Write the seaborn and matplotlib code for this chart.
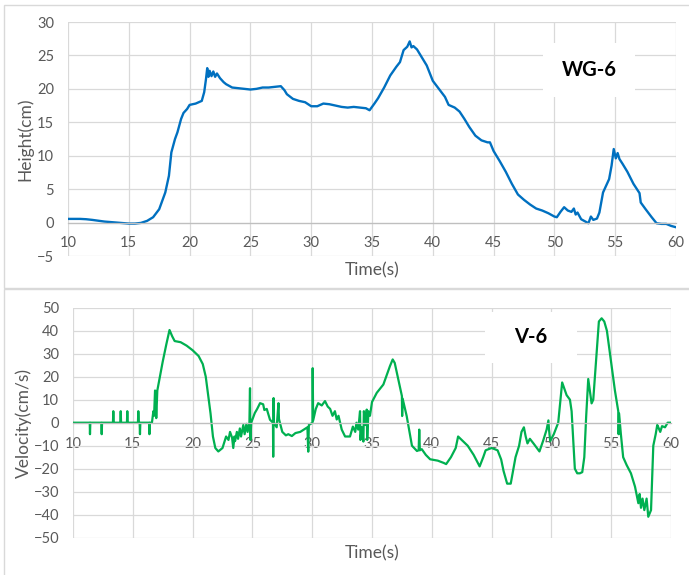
import matplotlib
matplotlib.use("Agg")
import matplotlib.pyplot as plt
from matplotlib.patches import Rectangle
import pandas as pd
import seaborn as sns

# ---- data ----
height_time = [
    10, 11, 11.5, 12, 13, 14, 15, 15.5, 16, 16.5,
    17, 17.5, 18, 18.3, 18.5, 18.8, 19, 19.3, 19.5, 19.8,
    20, 20.5, 21, 21.2, 21.35, 21.45, 21.55, 21.65, 21.8, 21.95,
    22.1, 22.25, 22.5, 22.8, 23, 23.5, 24, 24.5, 25, 25.5,
    26, 26.5, 27, 27.5, 27.8, 28, 28.5, 29, 29.5, 30,
    30.5, 31, 31.5, 32, 32.5, 33, 33.5, 34, 34.5, 34.8,
    35.2, 35.5, 36, 36.5, 37, 37.3, 37.6, 37.9, 38.1, 38.25,
    38.4, 38.7, 39, 39.5, 40, 40.5, 41, 41.3, 41.8, 42.2,
    42.6, 43, 43.5, 44, 44.5, 44.7, 45, 45.5, 46, 46.5,
    47, 47.5, 48, 48.5, 49, 49.5, 50, 50.2, 50.5, 50.8,
    51.1, 51.4, 51.6, 51.75, 51.9, 52.2, 52.5, 52.8, 53.0, 53.2,
    53.5, 53.7, 54, 54.5, 54.7, 54.88, 55.05, 55.2, 55.35, 55.6,
    56, 56.5, 57, 57.1, 57.5, 58, 58.4, 58.8, 59.2, 59.6,
    60]
height_cm = [
    0.55, 0.55, 0.5, 0.4, 0.15, 0.0, -0.15, -0.15, -0.05, 0.25,
    0.8, 2.0, 4.5, 7.0, 10.5, 12.5, 13.5, 15.5, 16.4, 17.0,
    17.6, 17.8, 18.2, 19.5, 21.5, 23.1, 21.8, 22.7, 21.9, 22.6,
    21.8, 22.3, 21.6, 21.0, 20.7, 20.2, 20.1, 20.0, 19.9, 20.0,
    20.2, 20.2, 20.3, 20.4, 19.8, 19.2, 18.5, 18.2, 18.0, 17.4,
    17.4, 17.8, 17.7, 17.5, 17.3, 17.2, 17.3, 17.2, 17.1, 16.8,
    17.8, 18.6, 20.2, 22.0, 23.3, 24.0, 25.8, 26.3, 27.1, 26.2,
    26.4, 25.9, 25.0, 23.5, 21.2, 20.0, 18.8, 17.6, 17.2, 16.6,
    15.5, 14.3, 13.0, 12.3, 12.0, 12.0, 10.7, 9.2, 7.6, 5.8,
    4.2, 3.4, 2.7, 2.1, 1.8, 1.4, 0.9, 0.8, 1.6, 2.3,
    1.8, 1.6, 2.1, 1.2, 1.5, 0.5, 0.2, -0.1, 0.9, 0.4,
    0.6, 1.5, 4.5, 6.5, 8.5, 11.0, 9.6, 10.4, 9.5, 8.8,
    7.6, 5.8, 4.4, 3.0, 2.0, 0.8, -0.1, -0.2, -0.2, -0.5,
    -0.7]

velocity_time = [
    10, 11.40, 11.42, 11.45, 12.37, 12.40, 12.43, 13.34, 13.37, 13.40,
    13.96, 13.99, 14.02, 14.51, 14.54, 14.57, 15.43, 15.46, 15.50, 15.57,
    15.60, 15.63, 16.36, 16.39, 16.42, 16.60, 16.72, 16.78, 16.86, 16.90,
    16.96, 17.05, 17.5, 17.8, 18.07, 18.3, 18.5, 19.0, 19.5, 20.0,
    20.5, 20.85, 21.1, 21.3, 21.5, 21.7, 21.9, 22.15, 22.5, 22.8,
    23.0, 23.13, 23.3, 23.4, 23.5, 23.55, 23.7, 23.8, 23.95, 24.05,
    24.24, 24.35, 24.5, 24.6, 24.75, 24.8, 24.83, 24.9, 25.2, 25.4,
    25.64, 25.9, 26.0, 26.2, 26.47, 26.72, 26.74, 26.77, 26.8, 27.03,
    27.18, 27.22, 27.5, 27.8, 28.0, 28.3, 28.6, 29.0, 29.3, 29.6,
    29.67, 29.72, 30.02, 30.04, 30.08, 30.3, 30.5, 30.8, 31.07, 31.3,
    31.5, 31.7, 31.9, 32.05, 32.2, 32.47, 32.75, 33.16, 33.4, 33.6,
    33.7, 33.85, 34.0, 34.03, 34.15, 34.28, 34.32, 34.45, 34.56, 34.6,
    34.7, 34.83, 35.0, 35.4, 35.95, 36.5, 36.73, 36.9, 37.2, 37.5,
    37.52, 37.56, 37.9, 38.34, 38.76, 38.9, 38.95, 39.0, 39.16, 39.5,
    39.86, 40.5, 41.0, 41.2, 41.6, 42.0, 42.2, 42.5, 43.0, 43.5,
    44.0, 44.3, 44.5, 45.0, 45.5, 45.8, 46.0, 46.3, 46.6, 47.0,
    47.3, 47.5, 47.7, 47.85, 48.0, 48.2, 48.5, 49.0, 49.3, 49.6,
    49.75, 49.8, 49.9, 50.2, 50.57, 50.9, 51.13, 51.27, 51.55, 51.69,
    51.96, 52.16, 52.38, 52.58, 52.75, 52.91, 53.08, 53.36, 53.5, 53.78,
    53.97, 54.2, 54.42, 54.64, 55.03, 55.31, 55.59, 55.62, 55.66, 55.81,
    56.0, 56.29, 56.65, 56.99, 57.15, 57.27, 57.38, 57.49, 57.62, 57.77,
    57.96, 58.1, 58.33, 58.52, 58.72, 58.85, 58.94, 59.1, 59.25, 59.5,
    59.72, 60.0]
velocity_cms = [
    0, 0, -5, 0, 0, -5, 0, 0, 5, 0,
    0, 5, 0, 0, 5, 0, 0, 5, 0, 0,
    -5, 0, 0, -5, 0, 0, 5, 3, 14, 13,
    2, 14, 26.5, 34, 40.3, 37.5, 35.5, 35, 33.5, 31.5,
    29, 25.5, 20, 12, 4, -6, -11, -12.5, -11, -6,
    -7.5, -4, -6.5, -11, -6, -8, -4, -7, -2.5, -6,
    -1, -5, -0.5, -4, 0, 15, -7.5, 0, 4.2, 6,
    8.5, 8, 5.5, 6, 1.3, 0, -14.8, 10.7, 0, -2,
    8.5, 1.6, -4, -5.5, -5, -5.8, -4.5, -4, -3, -2,
    -12.6, -1, 0, 23.7, 1, 6, 8.5, 7.5, 9.4, 7,
    6, 3, 5, 1.4, 3, -3, -6, -6, -1.7, -4,
    0, -3, 5, -7.5, -2, -8.2, 5, -1, 5.7, -7.5,
    5, 3, 9, 13, 16.6, 24.6, 27.5, 26, 18.9, 11.6,
    2.9, 10.5, 2.9, -10, -12.3, -12, -3, -12, -11.5, -14,
    -15.9, -16.5, -17.5, -18, -15, -11, -6, -7.5, -10, -14,
    -19, -15, -12, -11, -12, -16, -21, -26.5, -26.5, -15,
    -10, -4, -2, -6, -9, -7, -9, -12.5, -8, -3,
    1, -3, -8, -5, 0, 17.5, 14, 12, 10, 5,
    -20, -22, -22, -21.5, -15, 3, 19, 8.4, 10, 30,
    44, 45.4, 44, 40, 25, 14, 5, -5, 4, -5,
    -15, -18.4, -22, -27.8, -32, -35, -31, -37, -33, -38,
    -33, -40.9, -38, -10, -5, -1, -2, -4, -1.5, -2,
    0, 0]

x_ticks = list(range(10, 61, 5))
height_ticks = list(range(-5, 31, 5))
velocity_ticks = list(range(-50, 51, 10))

TEXT = "#595959"
GRID = "#d9d9d9"

sns.set_theme(style="white")
plt.rcParams["font.family"] = ["Lato", "DejaVu Sans"]

fig = plt.figure(figsize=(6.89, 5.75), dpi=100)

# panel frames
for y0, h in [(1 - 288 / 575, 283 / 575), (-0.01, 1 - 289 / 575 + 0.01)]:
    fig.add_artist(Rectangle((4 / 689, y0), 1.2, h, transform=fig.transFigure,
                             fill=False, ec=GRID, lw=1))

ax_h = fig.add_axes([68 / 689, 1 - 256 / 575, 608 / 689, 234 / 575])
ax_v = fig.add_axes([73 / 689, 1 - 537.7 / 575, 598 / 689, 230 / 575])

df_h = pd.DataFrame({"Time": height_time, "Height": height_cm})
df_v = pd.DataFrame({"Time": velocity_time, "Velocity": velocity_cms})

sns.lineplot(data=df_h, x="Time", y="Height", ax=ax_h, color="#0070C0",
             lw=1.7, estimator=None, sort=False)
sns.lineplot(data=df_v, x="Time", y="Velocity", ax=ax_v, color="#00B050",
             lw=1.6, estimator=None, sort=False)


def style_axis(ax, yticks):
    ax.set_xlim(10, 60)
    ax.set_ylim(yticks[0], yticks[-1])
    ax.set_xticks(x_ticks)
    ax.set_yticks(yticks)
    ax.grid(True, color=GRID, lw=0.9)
    ax.set_axisbelow(True)
    for side in ["left", "top", "right"]:
        ax.spines[side].set_visible(False)
    ax.spines["bottom"].set_position(("data", 0))
    ax.spines["bottom"].set_color("#bfbfbf")
    ax.spines["bottom"].set_linewidth(0.9)
    ax.tick_params(axis="both", length=0, labelsize=10.5, labelcolor=TEXT)
    ax.tick_params(axis="x", pad=10)
    ax.tick_params(axis="y", pad=10)
    ax.set_xlabel("")
    ax.set_ylabel("")


style_axis(ax_h, height_ticks)
style_axis(ax_v, velocity_ticks)

# label boxes
ax_h.add_patch(Rectangle((0.781, 0.679), 0.151, 0.231, transform=ax_h.transAxes,
                         fc="white", ec="none", zorder=2.5))
ax_h.text(0.857, 0.794, "WG-6", transform=ax_h.transAxes, ha="center", va="center",
          fontsize=14.5, fontweight="bold", color="black", zorder=3)
ax_v.add_patch(Rectangle((0.689, 0.76), 0.154, 0.222, transform=ax_v.transAxes,
                         fc="white", ec="none", zorder=2.5))
ax_v.text(0.766, 0.871, "V-6", transform=ax_v.transAxes, ha="center", va="center",
          fontsize=14.5, fontweight="bold", color="black", zorder=3)

# axis titles
fig.text(25 / 689, 1 - 139 / 575, "Height(cm)", rotation=90, ha="center", va="center",
         fontsize=12.5, color=TEXT)
fig.text(372 / 689, 1 - 270 / 575, "Time(s)", ha="center", va="center",
         fontsize=12.5, color=TEXT)
fig.text(24 / 689, 1 - 423 / 575, "Velocity(cm/s)", rotation=90, ha="center", va="center",
         fontsize=12.5, color=TEXT)
fig.text(372 / 689, 1 - 553 / 575, "Time(s)", ha="center", va="center",
         fontsize=12.5, color=TEXT)

fig.savefig("out.png", dpi=100)
